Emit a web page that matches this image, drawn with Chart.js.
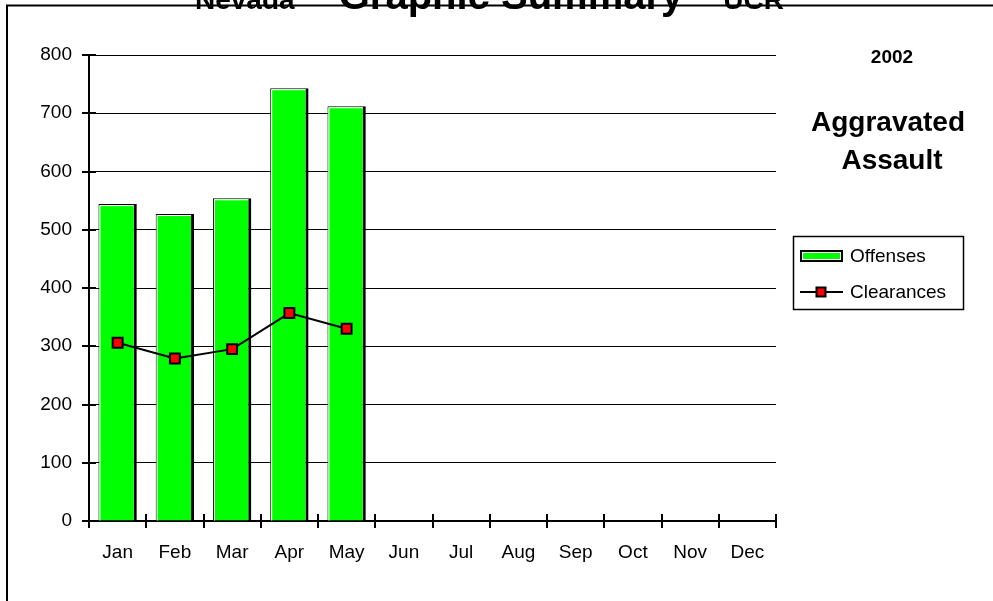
<!DOCTYPE html>
<html>
<head>
<meta charset="utf-8">
<script src="https://cdn.jsdelivr.net/npm/chart.js@4/dist/chart.umd.min.js"></script>
<style>
html,body{margin:0;padding:0;background:#fff;}
canvas{display:block;}
</style>
</head>
<body>
<canvas id="c" width="993" height="601"></canvas>
<script>
const months = ["Jan","Feb","Mar","Apr","May","Jun","Jul","Aug","Sep","Oct","Nov","Dec"];
const offenses = [544, 527, 554, 743, 712, null, null, null, null, null, null, null];
const clearances = [306, 279, 295, 357, 330, null, null, null, null, null, null, null];
const yTicks = [0, 100, 200, 300, 400, 500, 600, 700, 800];
const titleParts = ["Nevada", "Graphic Summary", "UCR"];
const yearLabel = "2002";
const crimeLabel = ["Aggravated", "Assault"];

const FONT = "'Liberation Sans', Arial, sans-serif";

const decor = {
  id: 'decor',
  beforeDraw(chart) {
    const ctx = chart.ctx;
    ctx.save();
    ctx.fillStyle = '#fff';
    ctx.fillRect(0, 0, chart.width, chart.height);
    ctx.restore();
  },
  afterDatasetDraw(chart, args) {
    if (args.index !== 0) return;
    const ctx = chart.ctx;
    const meta = args.meta;
    ctx.save();
    ctx.strokeStyle = '#fff';
    ctx.lineWidth = 1;
    meta.data.forEach((b, i) => {
      if (offenses[i] == null) return;
      const half = b.width / 2;
      const l = b.x - half, r = b.x + half, t = b.y, btm = b.base;
      ctx.beginPath();
      ctx.moveTo(l + 1.5, btm);
      ctx.lineTo(l + 1.5, t + 1.5);
      ctx.lineTo(r - 3, t + 1.5);
      ctx.stroke();
    });
    ctx.restore();
  },
  afterDraw(chart) {
    const ctx = chart.ctx;
    const ca = chart.chartArea;
    const ys = chart.scales.y;
    ctx.save();
    ctx.strokeStyle = '#000';
    ctx.lineWidth = 2;
    yTicks.forEach(v => {
      const y = Math.round(ys.getPixelForValue(v));
      ctx.beginPath();
      ctx.moveTo(ca.left - 7, y);
      ctx.lineTo(ca.left + 7, y);
      ctx.stroke();
    });
    const n = months.length;
    const cw = (ca.right - ca.left) / n;
    for (let i = 0; i <= n; i++) {
      const x = Math.round(ca.left + i * cw);
      ctx.beginPath();
      ctx.moveTo(x, ca.bottom - 7);
      ctx.lineTo(x, ca.bottom + 7);
      ctx.stroke();
    }

    // title (clipped at top)
    ctx.fillStyle = '#000';
    ctx.textBaseline = 'alphabetic';
    ctx.font = 'bold 28px ' + FONT;
    ctx.textAlign = 'left';
    ctx.fillText(titleParts[0], 195, 9);
    ctx.font = 'bold 40px ' + FONT;
    ctx.textAlign = 'center';
    ctx.fillText(titleParts[1], 511, 9);
    ctx.font = 'bold 28px ' + FONT;
    ctx.textAlign = 'right';
    ctx.fillText(titleParts[2], 784, 9);

    // frame
    ctx.lineWidth = 2;
    ctx.strokeStyle = '#000';
    ctx.beginPath();
    ctx.moveTo(7, 610);
    ctx.lineTo(7, 5.5);
    ctx.lineTo(1000, 5.5);
    ctx.stroke();

    // side labels
    ctx.textAlign = 'center';
    ctx.font = 'bold 19px ' + FONT;
    ctx.fillText(yearLabel, 892, 63);
    ctx.font = 'bold 28px ' + FONT;
    ctx.fillText(crimeLabel[0], 888, 131);
    ctx.fillText(crimeLabel[1], 892, 169);

    // legend
    ctx.lineWidth = 1.5;
    ctx.strokeRect(793.5, 236.5, 170, 73);
    ctx.fillStyle = '#00ff00';
    ctx.fillRect(801, 251, 41, 10);
    ctx.lineWidth = 2;
    ctx.strokeRect(801, 251, 41, 10);
    ctx.strokeStyle = '#fff';
    ctx.lineWidth = 1;
    ctx.strokeRect(802.5, 252.5, 38, 7);
    ctx.strokeStyle = '#000';
    ctx.lineWidth = 2;
    ctx.beginPath();
    ctx.moveTo(800, 292);
    ctx.lineTo(843, 292);
    ctx.stroke();
    ctx.fillStyle = '#ff0000';
    ctx.fillRect(816.5, 287.5, 9, 9);
    ctx.strokeRect(816.5, 287.5, 9, 9);
    ctx.fillStyle = '#000';
    ctx.font = '19px ' + FONT;
    ctx.textAlign = 'left';
    ctx.textBaseline = 'middle';
    ctx.fillText(chart.data.datasets[0].label, 850, 257);
    ctx.fillText(chart.data.datasets[1].label, 850, 293);
    ctx.restore();
  }
};

new Chart(document.getElementById('c'), {
  data: {
    labels: months,
    datasets: [
      {
        type: 'bar',
        label: 'Offenses',
        data: offenses,
        backgroundColor: '#00ff00',
        borderColor: '#000',
        borderWidth: {top: 1, left: 1, right: 3, bottom: 0},
        borderSkipped: false,
        barPercentage: 0.67,
        categoryPercentage: 1,
        order: 1
      },
      {
        type: 'line',
        label: 'Clearances',
        data: clearances,
        borderColor: '#000',
        borderWidth: 2,
        tension: 0,
        pointStyle: 'rect',
        pointRadius: 7,
        pointBackgroundColor: '#ff0000',
        pointBorderColor: '#000',
        pointBorderWidth: 2,
        order: 0
      }
    ]
  },
  options: {
    responsive: false,
    devicePixelRatio: 1,
    animation: false,
    layout: {padding: {left: 0, top: 55, right: 217, bottom: 0}},
    plugins: {legend: {display: false}, tooltip: {enabled: false}},
    scales: {
      x: {
        grid: {display: false, drawTicks: false},
        border: {display: true, color: '#000', width: 2},
        ticks: {color: '#000', font: {family: FONT, size: 19}, padding: 20, maxRotation: 0, autoSkip: false},
        afterFit(s) { s.height = 80; }
      },
      y: {
        min: 0, max: 800,
        afterBuildTicks(s) { s.ticks = yTicks.map(v => ({value: v})); },
        grid: {color: '#000', lineWidth: 1, drawTicks: false},
        border: {display: true, color: '#000', width: 2},
        ticks: {color: '#000', font: {family: FONT, size: 19}, padding: 17},
        afterFit(s) { s.width = 89; }
      }
    }
  },
  plugins: [decor]
});
</script>
</body>
</html>
